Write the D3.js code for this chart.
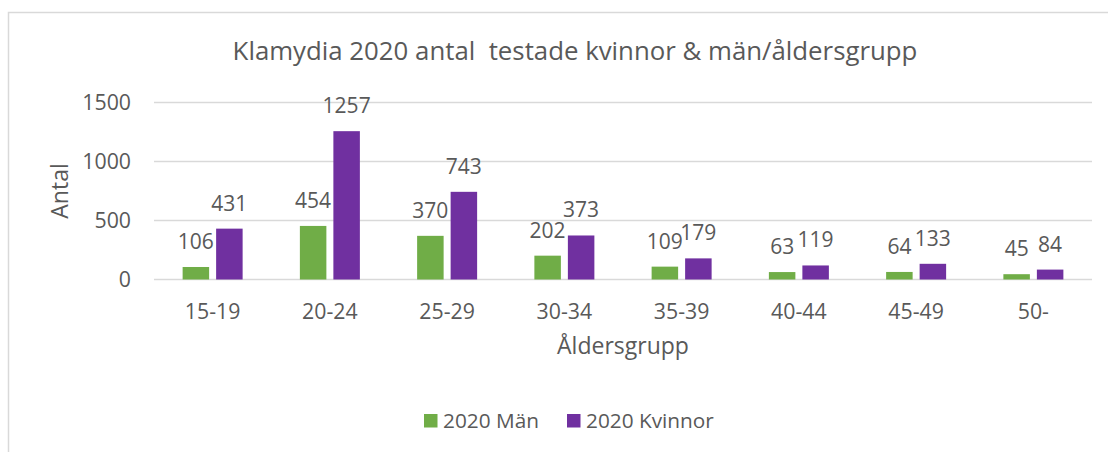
<!DOCTYPE html>
<html><head><meta charset="utf-8">
<script src="https://cdn.jsdelivr.net/npm/d3@7"></script>
<style>html,body{margin:0;padding:0;background:#fff;}svg{display:block;}text{font-family:"Open Sans",sans-serif;fill:#595959;white-space:pre;}</style>
</head><body>
<script>
const categories = ["15-19","20-24","25-29","30-34","35-39","40-44","45-49","50-"];
const seriesNames = ["2020 Män","2020 Kvinnor"];
const men = [106,454,370,202,109,63,64,45];
const women = [431,1257,743,373,179,119,133,84];
const yTicks = [0,500,1000,1500];
const colors = ["#70AD47","#7030A0"];
const title = "Klamydia 2020 antal  testade kvinnor & män/åldersgrupp";
const xTitle = "Åldersgrupp";
const yTitle = "Antal";

(function(){
const W = 1108, H = 452;
const svg = d3.select("body").append("svg").attr("width", W).attr("height", H);
svg.append("rect").attr("x",8.5).attr("y",12.5).attr("width",1140).attr("height",500)
  .attr("fill","#fff").attr("stroke","#d9d9d9").attr("stroke-width",1.5);

const pLeft = 154, pRight = 1092, pTop = 102.5, pBottom = 279.5;
const x0 = d3.scaleBand().domain(categories).range([pLeft, pRight]).padding(0);
const x1 = d3.scaleBand().domain(seriesNames).range([-30, 30]).paddingInner(7/33.5).paddingOuter(0);
const y = d3.scaleLinear().domain([0,1500]).range([pBottom, pTop]);

svg.append("g").selectAll("line").data(yTicks).join("line")
  .attr("x1", pLeft).attr("x2", pRight)
  .attr("y1", d => y(d)).attr("y2", d => y(d))
  .attr("stroke", "#d9d9d9").attr("stroke-width", 1.5);

const yAxis = d3.axisLeft(y).tickValues(yTicks).tickSize(0).tickPadding(0).tickFormat(d3.format("d"));
const ya = svg.append("g").attr("transform", `translate(131,0)`).call(yAxis);
ya.select(".domain").remove();
ya.selectAll("text").style("font-size","21.3px").attr("fill","#595959").style("font-family","'Open Sans',sans-serif");

const xAxis = d3.axisBottom(x0).tickSize(0).tickPadding(0);
const xa = svg.append("g").attr("transform", `translate(0,${pBottom})`).call(xAxis);
xa.select(".domain").remove();
xa.selectAll("text").attr("dy", null).attr("y", 39).style("font-size","21.3px").attr("fill","#595959").style("font-family","'Open Sans',sans-serif");

const data = categories.map((c,i) => ({cat:c, vals:[{s:seriesNames[0], v:men[i], k:0},{s:seriesNames[1], v:women[i], k:1}]}));
const groups = svg.append("g").selectAll("g").data(data).join("g")
  .attr("transform", d => `translate(${x0(d.cat)+x0.bandwidth()/2},0)`);
groups.selectAll("rect").data(d => d.vals).join("rect")
  .attr("x", d => x1(d.s)).attr("width", x1.bandwidth())
  .attr("y", d => y(d.v)).attr("height", d => y(0) - y(d.v))
  .attr("fill", d => colors[d.k]);
groups.selectAll("text").data(d => d.vals).join("text")
  .attr("x", d => x1(d.s) + x1.bandwidth()/2)
  .attr("y", d => y(d.v) - 18)
  .attr("text-anchor","middle").style("font-size","21px")
  .text(d => d.v);

svg.append("text").attr("x", 575).attr("y", 60).attr("text-anchor","middle").style("font-size","25.8px").text(title);
svg.append("text").attr("x", (pLeft+pRight)/2).attr("y", 354).attr("text-anchor","middle").style("font-size","23px").text(xTitle);
svg.append("text").attr("transform", "translate(68,191) rotate(-90)").attr("text-anchor","middle").style("font-size","23px").text(yTitle);

const legX = [424, 567];
seriesNames.forEach((s,i) => {
  svg.append("rect").attr("x", legX[i]).attr("y", 414).attr("width", 13.5).attr("height", 13.5).attr("fill", colors[i]);
  svg.append("text").attr("x", legX[i] + 19).attr("y", 428).style("font-size","20.8px").text(s);
});
})();
</script>
</body></html>
